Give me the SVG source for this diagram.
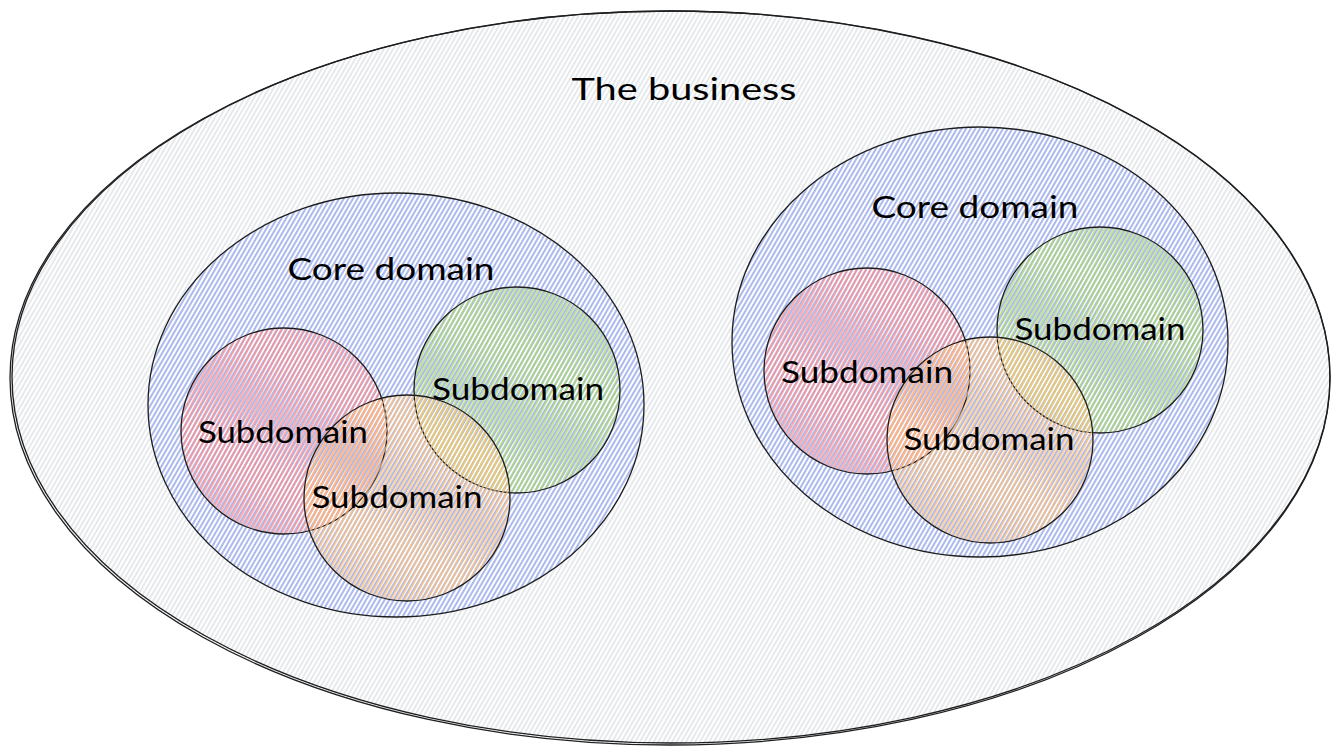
<svg xmlns="http://www.w3.org/2000/svg" width="1339" height="756" viewBox="0 0 1339 756">
<style>
.edge{fill:none;stroke:#1e1e1e;stroke-width:1.3}
.lbl{font-family:"Lato","Liberation Sans",sans-serif;font-size:30px;fill:#000;text-anchor:middle}
</style>
<defs>
<pattern id="hGray" patternUnits="userSpaceOnUse" width="4" height="8" patternTransform="rotate(30)">
<line x1="1" y1="0" x2="1" y2="8" stroke="#ced4da" stroke-width="1"/>
</pattern>
<pattern id="hBlue" patternUnits="userSpaceOnUse" width="4" height="8" patternTransform="rotate(30)">
<line x1="1" y1="0" x2="1" y2="8" stroke="#7d93ee" stroke-width="1.1"/>
</pattern>
<pattern id="hRed" patternUnits="userSpaceOnUse" width="4" height="8" patternTransform="rotate(28)">
<line x1="3" y1="0" x2="3" y2="8" stroke="#ff8a8a" stroke-width="1.4"/>
</pattern>
<pattern id="hGreen" patternUnits="userSpaceOnUse" width="4" height="8" patternTransform="rotate(28)">
<line x1="3" y1="0" x2="3" y2="8" stroke="#a9d86b" stroke-width="1.4"/>
</pattern>
<pattern id="hOrange" patternUnits="userSpaceOnUse" width="4" height="8" patternTransform="rotate(28)">
<line x1="3" y1="0" x2="3" y2="8" stroke="#ffc078" stroke-width="1.4"/>
</pattern>
</defs>
<rect width="1339" height="756" fill="#fff"/>

<g id="business">
<ellipse cx="670" cy="378" rx="660" ry="367" fill="url(#hGray)"/>
<ellipse class="edge" cx="670" cy="378" rx="660" ry="367"/>
<ellipse class="edge" cx="671" cy="377" rx="659" ry="366" stroke-width="0.6"/>
<text class="lbl" x="684" y="100" textLength="225" lengthAdjust="spacingAndGlyphs">The business</text>
</g>

<g id="core-left">
<ellipse cx="396" cy="405" rx="248" ry="212" fill="url(#hBlue)"/>
<ellipse class="edge" cx="396" cy="405" rx="248" ry="212"/>
<text class="lbl" x="391" y="280" textLength="207" lengthAdjust="spacingAndGlyphs">Core domain</text>
</g>
<g id="core-right">
<ellipse cx="980" cy="342" rx="248" ry="215" fill="url(#hBlue)"/>
<ellipse class="edge" cx="980" cy="342" rx="248" ry="215"/>
<text class="lbl" x="975" y="218" textLength="207" lengthAdjust="spacingAndGlyphs">Core domain</text>
</g>

<g id="sub-left-red">
<circle cx="284" cy="431" r="103" fill="url(#hRed)"/>
<circle class="edge" cx="284" cy="431" r="103"/>
</g>
<g id="sub-left-green">
<circle cx="517" cy="390" r="103" fill="url(#hGreen)"/>
<circle class="edge" cx="517" cy="390" r="103"/>
</g>
<g id="sub-left-orange">
<circle cx="407" cy="498" r="103" fill="url(#hOrange)"/>
<circle class="edge" cx="407" cy="498" r="103"/>
</g>
<g id="sub-right-red">
<circle cx="867" cy="371" r="103" fill="url(#hRed)"/>
<circle class="edge" cx="867" cy="371" r="103"/>
</g>
<g id="sub-right-green">
<circle cx="1100" cy="330" r="103" fill="url(#hGreen)"/>
<circle class="edge" cx="1100" cy="330" r="103"/>
</g>
<g id="sub-right-orange">
<circle cx="990" cy="440" r="103" fill="url(#hOrange)"/>
<circle class="edge" cx="990" cy="440" r="103"/>
</g>

<g id="labels">
<text class="lbl" x="283" y="443" textLength="170" lengthAdjust="spacingAndGlyphs">Subdomain</text>
<text class="lbl" x="518" y="400" textLength="172" lengthAdjust="spacingAndGlyphs">Subdomain</text>
<text class="lbl" x="397" y="508" textLength="171" lengthAdjust="spacingAndGlyphs">Subdomain</text>
<text class="lbl" x="867" y="383" textLength="172" lengthAdjust="spacingAndGlyphs">Subdomain</text>
<text class="lbl" x="1100" y="340" textLength="171" lengthAdjust="spacingAndGlyphs">Subdomain</text>
<text class="lbl" x="989" y="450" textLength="171" lengthAdjust="spacingAndGlyphs">Subdomain</text>
</g>
</svg>
